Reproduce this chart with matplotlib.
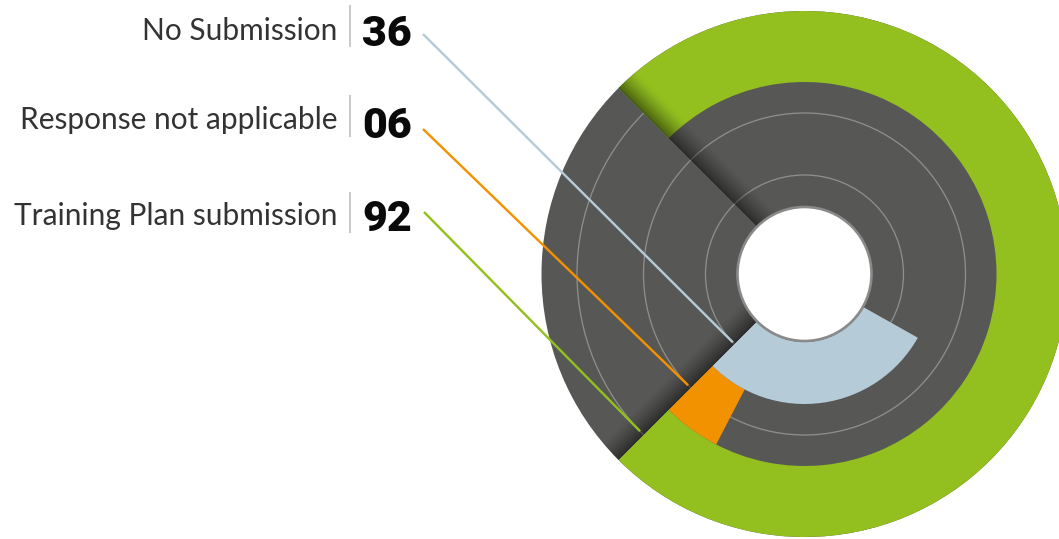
import numpy as np
import matplotlib
matplotlib.use("Agg")
import matplotlib.pyplot as plt
from matplotlib.patches import Wedge, Circle

# ---- data -------------------------------------------------------------
categories = ["No Submission", "Response not applicable", "Training Plan submission"]
values = [36, 6, 92]
colors = ["#b5cbd7", "#f39200", "#93c01f"]

# ---- layout (pixel space, y up) ---------------------------------------
W, H = 1059, 539
CX, CY = 804.5, H - 274
RADII = [68, 130, 192, 263]          # ring boundaries, inner to outer
START = 225.0                        # all sweeps start at lower-left
FULL_SWEEP = 270.0                   # sweep of the largest value
DARK = "#575756"

fig = plt.figure(figsize=(W / 100, H / 100), dpi=100)
ax = fig.add_axes([0, 0, 1, 1])
ax.set_xlim(0, W)
ax.set_ylim(0, H)
ax.set_aspect("equal")
ax.axis("off")

px = 72 / 100  # points per pixel

# background disk
disk = Circle((CX, CY), RADII[-1], facecolor=DARK, edgecolor="none", zorder=1)
ax.add_patch(disk)

# guide circles through the middle of each ring
for i in range(3):
    rm = (RADII[i] + RADII[i + 1]) / 2
    ax.add_patch(Circle((CX, CY), rm, facecolor="none", edgecolor="#8e8e8c",
                        lw=1.3 * px, zorder=2))

# ring sweeps; drawn outer ring first
vmax = max(values)
for i in reversed(range(3)):
    sweep = values[i] / vmax * FULL_SWEEP
    ax.add_patch(Wedge((CX, CY), RADII[i + 1], START, START + sweep,
                       width=RADII[i + 1] - RADII[i], facecolor=colors[i],
                       edgecolor="none", zorder=3 + (2 - i)))

# soft shadows along the two edges of the open quadrant
yy, xx = np.mgrid[0:H, 0:W] + 0.5
dx, dy = xx - CX, (H - yy) - CY
alpha = np.zeros((H, W))
shadow_w = 24.0
for ang in (START, START + FULL_SWEEP):
    t = np.deg2rad(ang)
    along = dx * np.cos(t) + dy * np.sin(t)
    side = dx * np.sin(t) - dy * np.cos(t)
    m = (along > 0) & (side >= 0) & (side <= shadow_w)
    a = np.where(m, 0.5 * (1 - side / shadow_w) ** 1.3, 0.0)
    alpha = np.maximum(alpha, a)
shade = np.zeros((H, W, 4))
shade[..., 3] = alpha
im = ax.imshow(shade, extent=(0, W, 0, H), origin="upper", zorder=8,
               interpolation="bilinear")
im.set_clip_path(Circle((CX, CY), RADII[-1], transform=ax.transData))

# centre hole
ax.add_patch(Circle((CX, CY), RADII[0] - 1, facecolor="white",
                    edgecolor="#8a8a8a", lw=2.6 * px, zorder=9))

# labels, separators, values and leader lines
label_y = [28, 117, 214]
num_y = [30, 122, 215]
sep_y = [(5, 47), (95, 137), (192, 233)]
lead_start = [(423, 34), (423, 129), (424, 212)]
for i in range(3):
    ax.text(337, H - label_y[i], categories[i], ha="right", va="center_baseline",
            fontsize=21.5, family=["Lato", "DejaVu Sans"], weight="normal",
            color="#333333", zorder=10)
    ax.plot([350, 350], [H - sep_y[i][0], H - sep_y[i][1]], color="#bdbdbd",
            lw=1.6 * px, solid_capstyle="butt", zorder=10)
    ax.text(362, H - num_y[i], f"{values[i]:02d}", ha="left", va="center_baseline",
            fontsize=31, family=["Roboto", "DejaVu Sans"], weight="black",
            color="#0a0a0a", zorder=10)
    rm = (RADII[i] + RADII[i + 1]) / 2
    t = np.deg2rad(START - 1.3)
    ex, ey = CX + rm * np.cos(t), CY + rm * np.sin(t)
    sx, sy = lead_start[i]
    ax.plot([sx, ex], [H - sy, ey], color=colors[i], lw=2.4 * px,
            solid_capstyle="butt", zorder=10)

fig.savefig("out.png", dpi=100)
